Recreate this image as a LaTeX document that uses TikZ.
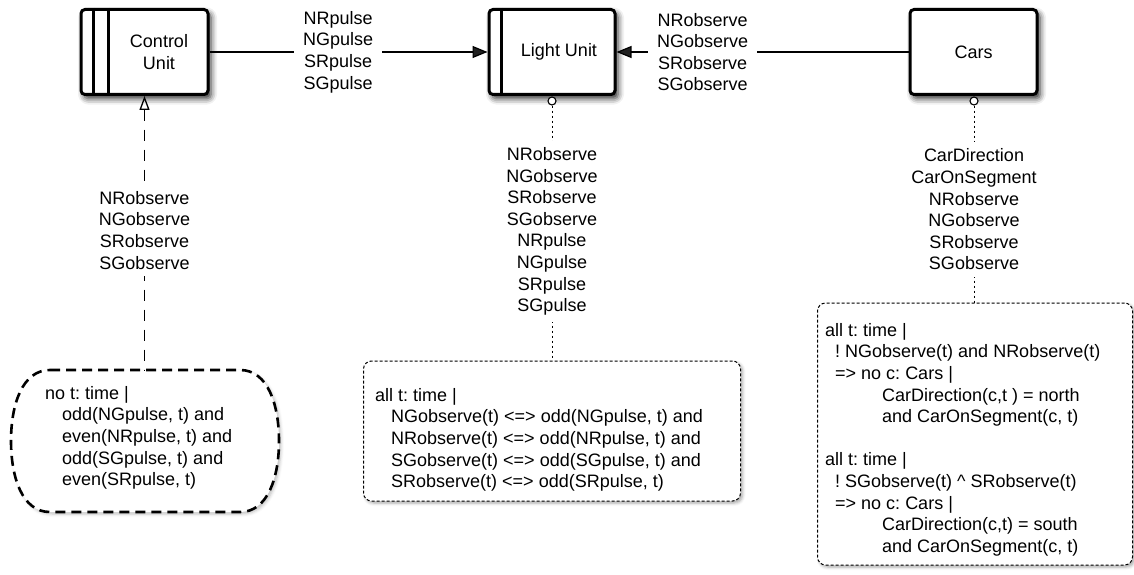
\documentclass[tikz,border=0pt]{standalone}
\usepackage{fontspec}
\setmainfont{Liberation Sans}
\usetikzlibrary{arrows.meta,shadows.blur,calc}
\frenchspacing

\tikzset{
  every node/.style={font=\fontsize{18}{21.6}\selectfont},
  unitbox/.style={draw, line width=3pt, rounded corners=4pt, fill=white,
    minimum width=127pt, minimum height=85pt, inner sep=0pt,
    blur shadow={shadow xshift=3pt, shadow yshift=-4pt,
      shadow blur radius=6pt, shadow opacity=85}},
  stripe/.style={line width=2.2pt},
  unittext/.style={align=center, inner sep=0pt},
  port/.style={circle, draw, fill=white, line width=1.1pt,
    minimum size=8pt, inner sep=0pt},
  specbox/.style={draw, line width=1pt, dash pattern=on 3pt off 2pt,
    rounded corners=8pt, fill=white, inner sep=0pt,
    blur shadow={shadow xshift=2pt, shadow yshift=-2pt,
      shadow blur radius=3pt, shadow opacity=35}},
  cloudline/.style={draw, line width=2.6pt, dash pattern=on 10pt off 6pt,
    fill=white,
    blur shadow={shadow xshift=2pt, shadow yshift=-2pt,
      shadow blur radius=3pt, shadow opacity=25}},
  spectext/.style={align=left, anchor=north west, inner sep=0pt},
  conn/.style={line width=1.2pt},
  tip/.style={-{Triangle[length=15pt,width=12pt]}},
  dashconn/.style={line width=1.5pt, dash pattern=on 11pt off 9pt},
  dotconn/.style={line width=1pt, dash pattern=on 2.5pt off 2.5pt},
  lbl/.style={fill=white, align=center, inner xsep=9pt, inner ysep=7pt},
}

\begin{document}
\begin{tikzpicture}[x=1pt, y=-1pt]
  \useasboundingbox (0,0) rectangle (1134,575);

  % domains
  \node[unitbox] (cu) at (144.5,52) {};
  \draw[stripe] ($(cu.north west)+(14,0)$) -- ($(cu.south west)+(14,0)$);
  \draw[stripe] ($(cu.north west)+(29,0)$) -- ($(cu.south west)+(29,0)$);
  \node[unittext] (cutext) at (159,52) {Control\\Unit};

  \node[unitbox, minimum width=126pt] (lu) at (552,52) {};
  \draw[stripe] ($(lu.north west)+(14,0)$) -- ($(lu.south west)+(14,0)$);
  \node[unittext] (lutext) at (559,52) {Light Unit};

  \node[unitbox] (cars) at (973.5,52) {};
  \node[unittext] (carstext) at (973.5,52) {Cars};

  % ports
  \node[port] (luport) at (552,101) {};
  \node[port] (carsport) at (974,101) {};

  % rounded constraint on the control unit
  \coordinate (cloudtop) at (145,370);
  \path[cloudline] (50,370) -- (240,370)
    .. controls (268,370) and (279,405) .. (279,441)
    .. controls (279,477) and (268,512) .. (240,512)
    -- (50,512)
    .. controls (22,512) and (11,477) .. (11,441)
    .. controls (11,405) and (22,370) .. (50,370) -- cycle;
  \node[spectext] (cloudtext) at (45,386) {no t: time |\\
    \hspace*{17pt}odd(NGpulse, t) and\\
    \hspace*{17pt}even(NRpulse, t) and\\
    \hspace*{17pt}odd(SGpulse, t) and\\
    \hspace*{17pt}even(SRpulse, t)};

  % constraint boxes
  \node[specbox, minimum width=377pt, minimum height=140pt] (lubox) at (552,431) {};
  \node[spectext] (luboxtext) at (375,388) {all t: time |\\
    \hspace*{16pt}NGobserve(t) <=> odd(NGpulse, t) and\\
    \hspace*{16pt}NRobserve(t) <=> odd(NRpulse, t) and\\
    \hspace*{16pt}SGobserve(t) <=> odd(SGpulse, t) and\\
    \hspace*{16pt}SRobserve(t) <=> odd(SRpulse, t)};

  \node[specbox, minimum width=315pt, minimum height=262pt] (carsbox) at (975,434) {};
  \node[spectext] (carsboxtext) at (825,323) {all t: time |\\
    \hspace*{10pt}! NGobserve(t) and NRobserve(t)\\
    \hspace*{10pt}=> no c: Cars |\\
    \hspace*{57pt}CarDirection(c,t ) = north\\
    \hspace*{57pt}and CarOnSegment(c, t)\\[21.6pt]
    all t: time |\\
    \hspace*{10pt}! SGobserve(t) \textasciicircum{} SRobserve(t)\\
    \hspace*{10pt}=> no c: Cars |\\
    \hspace*{57pt}CarDirection(c,t) = south\\
    \hspace*{57pt}and CarOnSegment(c, t)};

  % shared phenomena
  \draw[conn, tip] (cu.east) -- node[lbl, pos=0.463]
    {NRpulse\\NGpulse\\SRpulse\\SGpulse} (lu.west);
  \draw[conn, tip] (cars.west) -- node[lbl, pos=0.705]
    {NRobserve\\NGobserve\\SRobserve\\SGobserve} (lu.east);

  \draw[dashconn, {Triangle[open, length=14pt, width=10pt, line width=1.3pt]}-]
    (cu.south) -- node[lbl, pos=0.49]
    {NRobserve\\NGobserve\\SRobserve\\SGobserve} (cu.south |- cloudtop);

  \draw[dotconn] (luport.south) -- node[lbl, pos=0.494]
    {NRobserve\\NGobserve\\SRobserve\\SGobserve\\NRpulse\\NGpulse\\SRpulse\\SGpulse}
    (luport.south |- lubox.north);

  \draw[dotconn] (carsport.south) -- node[lbl, pos=0.528]
    {CarDirection\\CarOnSegment\\NRobserve\\NGobserve\\SRobserve\\SGobserve}
    (carsport.south |- carsbox.north);
\end{tikzpicture}
\end{document}
